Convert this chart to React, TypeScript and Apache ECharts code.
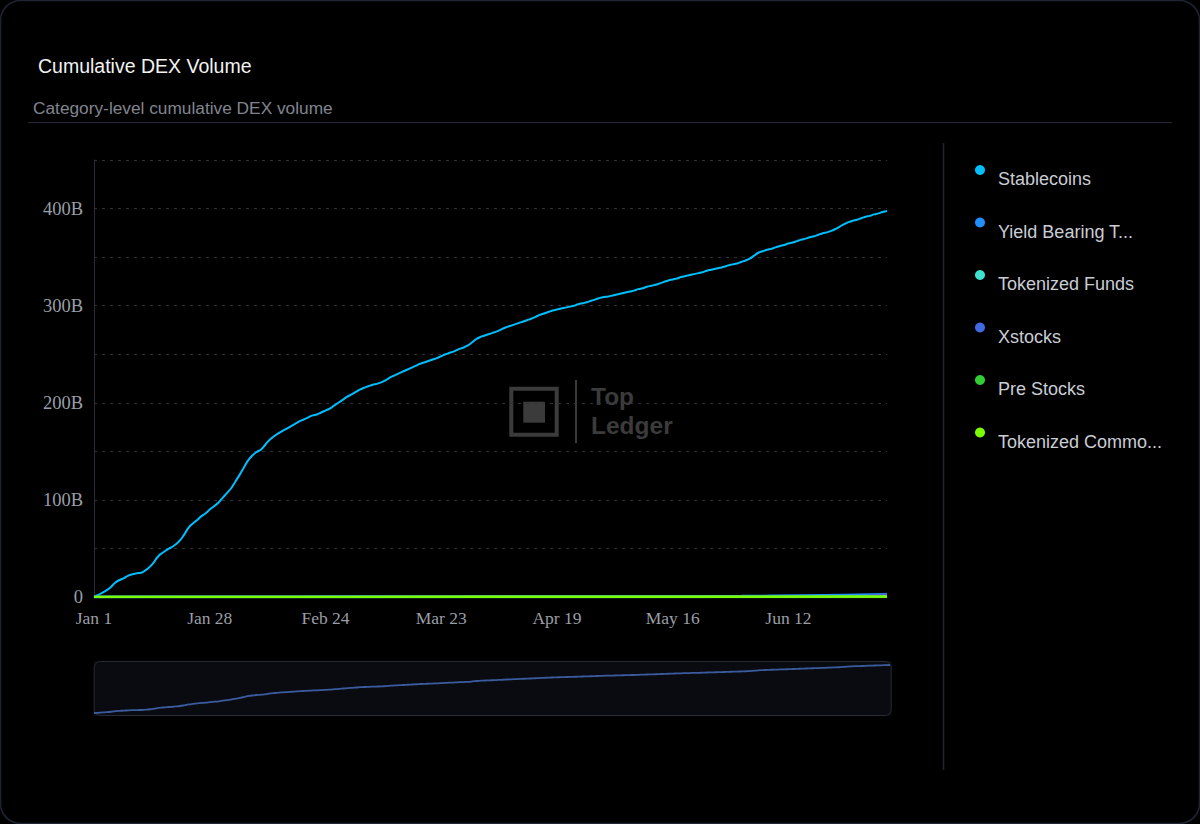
import React, { useEffect, useRef } from "react";
import * as echarts from "echarts";

// ---------- data ----------
const START_DATE = "2025-01-01";
const DAY_COUNT = 186; // Jan 1 .. Jul 5

const MONTHS = ["Jan", "Feb", "Mar", "Apr", "May", "Jun", "Jul", "Aug", "Sep", "Oct", "Nov", "Dec"];
const categories: string[] = [];
{
  const d0 = new Date(START_DATE + "T00:00:00Z").getTime();
  for (let i = 0; i < DAY_COUNT; i++) {
    const d = new Date(d0 + i * 86400000);
    categories.push(`${MONTHS[d.getUTCMonth()]} ${d.getUTCDate()}`);
  }
}

const seriesNames = [
  "Stablecoins",
  "Yield Bearing Tokens",
  "Tokenized Funds",
  "Xstocks",
  "Pre Stocks",
  "Tokenized Commodities",
];
const seriesColors = ["#00bfff", "#1e90ff", "#40e0d0", "#4169e1", "#32cd32", "#7cfc00"];

// cumulative volume in billions USD, one value per day
const stablecoins = [
  0, 2.2, 4.6, 7, 10.5, 15, 17.5, 19.5, 22, 23.5,
  24.5, 25, 27.5, 31, 36, 42, 45.5, 48.5, 51, 54,
  58, 64, 71, 75.5, 79, 83, 86, 90, 93.5, 97,
  102, 107, 112, 119, 126, 133.5, 141, 146, 149.5, 152,
  157, 162, 165.5, 168.5, 171, 173.5, 176, 178.5, 181, 183,
  185, 187, 188, 190, 192, 194, 197, 200, 203, 206,
  208.5, 211, 213.5, 215.5, 217, 218.5, 219.5, 221, 223, 226,
  228, 230, 232, 234, 236, 238, 240, 241.5, 243, 244.5,
  246, 248, 250, 251.5, 253, 255, 256.5, 258.5, 261.5, 265,
  267.5, 269, 270.5, 272, 273.5, 275.5, 277.5, 279, 280.5, 282,
  283.5, 285, 286.5, 288.5, 290.5, 292, 293.5, 295, 296, 297,
  298, 299, 300, 301.5, 302.5, 303.5, 305, 306.5, 308, 309,
  309.5, 310.5, 311.5, 312.5, 313.5, 314.5, 315.5, 317, 318, 319.5,
  320.5, 321.5, 323, 324.5, 326, 327, 328, 329.5, 330.5, 331.5,
  332.5, 333.5, 334.5, 336, 337, 338, 339, 340, 341.5, 342.5,
  343.5, 345, 346.5, 348.5, 351.5, 354.5, 356, 357.5, 358.5, 360,
  361.5, 362.5, 364, 365, 366.5, 368, 369, 370.5, 371.5, 373,
  374.5, 375.5, 377, 379, 381.5, 384, 386, 387.5, 388.5, 390,
  391.5, 392.5, 394, 395, 396.5, 397.5,
];

// smaller categories (billions), sampled on the dates shown
const yieldBearing: [string, number][] = [
  ["Jan 1", 0], ["Feb 1", 0.2], ["Mar 1", 0.4], ["Apr 1", 0.6], ["May 1", 0.8],
  ["Jun 1", 1.0], ["Jun 15", 1.5], ["Jun 25", 2.0], ["Jul 5", 2.8],
];
const tokenizedFunds: [string, number][] = [
  ["Jan 1", 0], ["Mar 1", 0.05], ["May 1", 0.1], ["Jul 5", 0.2],
];
const xstocks: [string, number][] = [
  ["Jan 1", 0], ["Jun 29", 0], ["Jul 1", 1.2], ["Jul 5", 3.2],
];
const preStocks: [string, number][] = [
  ["Jan 1", 0], ["May 1", 0.02], ["Jul 5", 0.1],
];
const tokenizedCommodities: [string, number][] = [
  ["Jan 1", 0], ["Mar 1", 0.1], ["May 1", 0.2], ["Jul 5", 0.4],
];

const Y_MIN = 0;
const Y_MAX = 450;
const Y_STEP = 50;

export default function App() {
  const ref = useRef<HTMLDivElement>(null);

  useEffect(() => {
    document.body.style.margin = "0";
    document.body.style.background = "#000";
    if (!ref.current) return;
    const chart = echarts.init(ref.current, undefined, { renderer: "svg" });

    const allData = [stablecoins, yieldBearing, tokenizedFunds, xstocks, preStocks, tokenizedCommodities];

    const mainSeries = seriesNames.map((name, i) => ({
      name,
      type: "line",
      xAxisIndex: 0,
      yAxisIndex: 0,
      data: allData[i],
      smooth: true,
      showSymbol: false,
      color: seriesColors[i],
      lineStyle: { width: i === 0 ? 2 : 2.5, color: seriesColors[i] },
    }));

    const option: any = {
      animation: false,
      backgroundColor: "#000",
      title: [
        {
          text: "Cumulative DEX Volume",
          left: 38,
          top: 54,
          padding: 0,
          textStyle: {
            color: "#f2f2f2",
            fontFamily: "Liberation Sans, Arial, sans-serif",
            fontSize: 19.5,
            fontWeight: "normal",
            lineHeight: 24,
          },
        },
        {
          text: "Category-level cumulative DEX volume",
          left: 33,
          top: 98,
          padding: 0,
          textStyle: {
            color: "#80858f",
            fontFamily: "Liberation Sans, Arial, sans-serif",
            fontSize: 17.3,
            fontWeight: "normal",
            lineHeight: 20,
          },
        },
      ],
      legend: {
        orient: "vertical",
        left: 975,
        top: 152,
        padding: 0,
        icon: "circle",
        itemWidth: 26,
        itemHeight: 10,
        itemGap: 16.5,
        data: seriesNames,
        formatter: (name: string) => "\n" + (name.length > 15 ? name.slice(0, 15) + "..." : name),
        textStyle: {
          color: "#c9cdd4",
          fontFamily: "Liberation Sans, Arial, sans-serif",
          fontSize: 18,
          lineHeight: 18,
        },
      },
      grid: [
        { left: 94, right: 313, top: 160, bottom: 227 },
        { left: 94, right: 310, top: 665, height: 48 },
      ],
      xAxis: [
        {
          type: "category",
          gridIndex: 0,
          boundaryGap: false,
          data: categories,
          axisLine: { show: true, lineStyle: { color: "#2a2f3a" } },
          axisTick: { show: false },
          axisLabel: {
            interval: 26,
            color: "#9a9ea6",
            fontFamily: "Liberation Serif, Times New Roman, serif",
            fontSize: 17.5,
            margin: 12,
          },
          splitLine: { show: false },
        },
        {
          type: "category",
          gridIndex: 1,
          boundaryGap: false,
          data: categories,
          show: false,
        },
      ],
      yAxis: [
        {
          type: "value",
          gridIndex: 0,
          min: Y_MIN,
          max: Y_MAX,
          interval: Y_STEP,
          axisLine: { show: true, lineStyle: { color: "#2a2f3a" } },
          axisTick: { show: false },
          axisLabel: {
            color: "#9a9ea6",
            fontFamily: "Liberation Serif, Times New Roman, serif",
            fontSize: 18.5,
            margin: 11,
            formatter: (v: number) => (v === 0 ? "0" : v % 100 === 0 ? `${v}B` : ""),
          },
          splitLine: { show: true, lineStyle: { color: "#2e323a", type: [3, 5] } },
        },
        {
          type: "value",
          gridIndex: 1,
          min: 0,
          max: "dataMax",
          show: false,
          splitLine: { show: false },
        },
      ],
      dataZoom: [
        {
          type: "slider",
          xAxisIndex: 0,
          left: 93,
          right: 309,
          top: 661,
          height: 55,
          start: 0,
          end: 100,
          backgroundColor: "#090b11",
          borderColor: "#252a33",
          borderRadius: 6,
          fillerColor: "rgba(0,0,0,0)",
          showDetail: false,
          showDataShadow: false,
          brushSelect: false,
          moveHandleSize: 0,
          handleSize: "0%",
          handleStyle: { opacity: 0 },
          moveHandleStyle: { opacity: 0 },
          emphasis: { handleStyle: { opacity: 0 }, moveHandleStyle: { opacity: 0 } },
        },
      ],
      series: [
        ...mainSeries,
        {
          name: "overview",
          type: "line",
          xAxisIndex: 1,
          yAxisIndex: 1,
          data: stablecoins,
          smooth: true,
          showSymbol: false,
          silent: true,
          z: 10,
          color: "#3a5c9e",
          lineStyle: { width: 1.8, color: "#3a5c9e" },
        },
      ],
      graphic: [
        {
          type: "rect",
          silent: true,
          shape: { x: 0.5, y: 0.5, width: 1199, height: 823, r: 20 },
          style: { fill: "none", stroke: "#1e2433", lineWidth: 1.5 },
        },
        {
          type: "line",
          silent: true,
          shape: { x1: 28, y1: 122.5, x2: 1172, y2: 122.5 },
          style: { stroke: "#232937", lineWidth: 1 },
        },
        {
          type: "line",
          silent: true,
          shape: { x1: 943.5, y1: 143, x2: 943.5, y2: 770 },
          style: { stroke: "#1f2430", lineWidth: 1.5 },
        },
        {
          type: "group",
          silent: true,
          z: -1,
          children: [
            {
              type: "rect",
              shape: { x: 511.3, y: 388.7, width: 45.4, height: 46 },
              style: { fill: "none", stroke: "#3b3b3b", lineWidth: 4 },
            },
            {
              type: "rect",
              shape: { x: 523.3, y: 401.7, width: 21.7, height: 21 },
              style: { fill: "#3b3b3b" },
            },
            {
              type: "line",
              shape: { x1: 576, y1: 380, x2: 576, y2: 443 },
              style: { stroke: "#3b3b3b", lineWidth: 2 },
            },
            {
              type: "text",
              style: {
                text: "Top",
                x: 591,
                y: 396.5,
                fill: "#3b3b3b",
                font: "bold 24.5px Liberation Sans, Arial, sans-serif",
                verticalAlign: "middle",
              },
            },
            {
              type: "text",
              style: {
                text: "Ledger",
                x: 591,
                y: 425,
                fill: "#3b3b3b",
                font: "bold 24.5px Liberation Sans, Arial, sans-serif",
                verticalAlign: "middle",
              },
            },
          ],
        },
      ],
    };

    chart.setOption(option);
    return () => chart.dispose();
  }, []);

  return (
    <div
      ref={ref}
      style={{ position: "absolute", left: 0, top: 0, width: 1200, height: 824, background: "#000" }}
    />
  );
}
